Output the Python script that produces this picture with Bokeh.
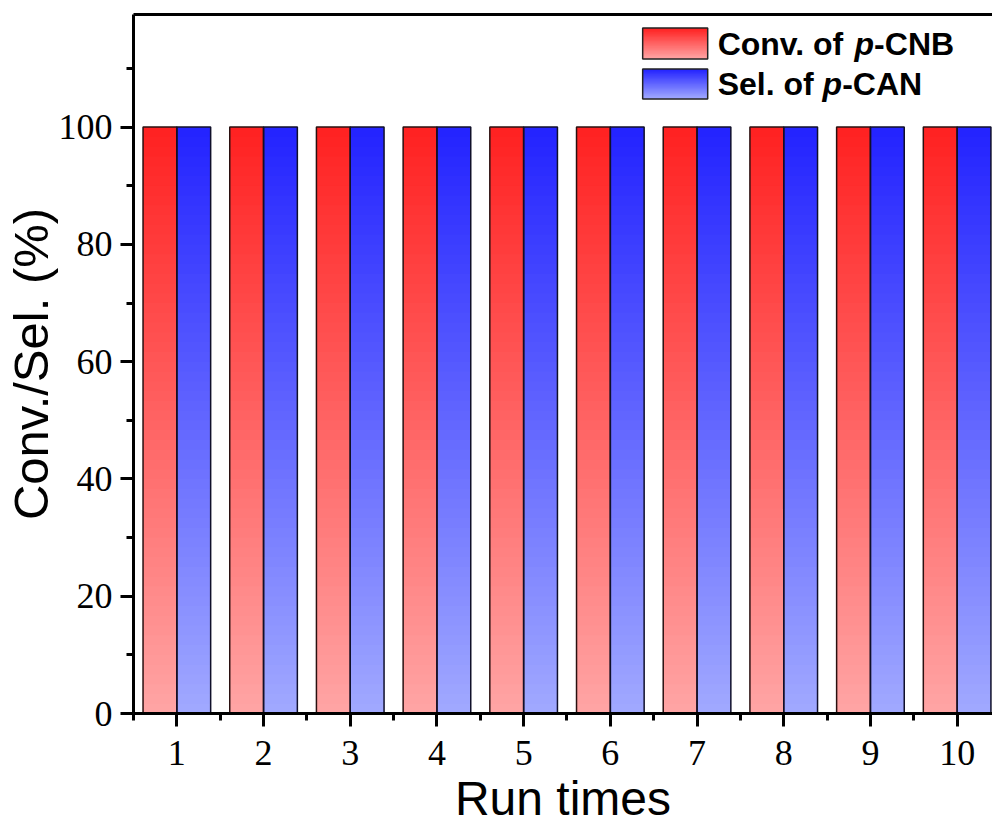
import numpy as np
from bokeh.plotting import figure
from bokeh.models import FixedTicker, Range1d, LinearAxis, ColumnDataSource
from bokeh.core.properties import value
from bokeh.embed import file_html
from bokeh.resources import INLINE

# ---------------- data ----------------
runs = [1, 2, 3, 4, 5, 6, 7, 8, 9, 10]
conv_pCNB = [100, 100, 100, 100, 100, 100, 100, 100, 100, 100]
sel_pCAN = [100, 100, 100, 100, 100, 100, 100, 100, 100, 100]
x_tick_values = [1, 2, 3, 4, 5, 6, 7, 8, 9, 10]
x_minor_values = [0.5, 1.5, 2.5, 3.5, 4.5, 5.5, 6.5, 7.5, 8.5, 9.5, 10.5]
y_tick_values = [0, 20, 40, 60, 80, 100]
y_minor_values = [10, 30, 50, 70, 90, 110]
series_names = ["Conv. of ", "Sel. of "]
series_italic = ["p", "p"]
series_suffix = ["-CNB", "-CAN"]
x_title = "Run times"
y_title = "Conv./Sel. (%)"

# ---------------- style ----------------
RED_TOP, RED_BOTTOM = (255, 34, 34), (255, 164, 164)
BLUE_TOP, BLUE_BOTTOM = (36, 36, 255), (160, 168, 255)
BAR_W = 0.39
OFFSET = BAR_W / 2
N_SLICES = 60
LEG_FONT_PX = 32
# Liberation Sans Bold advance widths (em) used to place the mixed-style legend text
ADV = {"C": .722, "o": .611, "n": .611, "v": .556, ".": .278, " ": .278, "f": .333,
       "S": .667, "e": .556, "l": .278, "p": .611}


def text_w(s):
    return sum(ADV.get(ch, .6) for ch in s) * LEG_FONT_PX


def hexc(c):
    return "#%02x%02x%02x" % tuple(int(round(v)) for v in c)


def mix(c0, c1, f):
    return tuple(a + (b - a) * f for a, b in zip(c0, c1))


def gradient_bars(xs, vals, c_bottom, c_top, n=N_SLICES):
    x, b, t, col = [], [], [], []
    for xi, v in zip(xs, vals):
        for k in range(n):
            f = k / (n - 1)
            x.append(xi)
            b.append(v * k / n)
            t.append(min(v, v * (k + 1) / n + v * 0.006))
            col.append(hexc(mix(c_bottom, c_top, f)))
    return ColumnDataSource(dict(x=x, bottom=b, top=t, color=col))


def gradient_box(left, right, bottom, top, c_bottom, c_top, n=24):
    l, r, b, t, col = [], [], [], [], []
    h = (top - bottom) / n
    for k in range(n):
        f = k / (n - 1)
        l.append(left); r.append(right)
        b.append(bottom + h * k)
        t.append(min(top, bottom + h * (k + 1) + h * 0.6))
        col.append(hexc(mix(c_bottom, c_top, f)))
    return ColumnDataSource(dict(left=l, right=r, bottom=b, top=t, color=col))


p = figure(width=992, height=827, output_backend="svg", toolbar_location=None,
           x_range=Range1d(0.5, 10.408), y_range=Range1d(0, 119.2),
           min_border_left=133, min_border_right=0, min_border_top=14,
           min_border_bottom=114)
p.outline_line_color = None
p.xgrid.visible = False
p.ygrid.visible = False
p.background_fill_color = "white"
p.border_fill_color = "white"

x_red = [r - OFFSET for r in runs]
x_blue = [r + OFFSET for r in runs]

p.vbar(x="x", bottom="bottom", top="top", width=BAR_W, fill_color="color",
       line_color=None, source=gradient_bars(x_red, conv_pCNB, RED_BOTTOM, RED_TOP))
p.vbar(x="x", bottom="bottom", top="top", width=BAR_W, fill_color="color",
       line_color=None, source=gradient_bars(x_blue, sel_pCAN, BLUE_BOTTOM, BLUE_TOP))
p.vbar(x=x_red, top=conv_pCNB, bottom=0, width=BAR_W, fill_color=None,
       line_color="#2a1010", line_width=1.5)
p.vbar(x=x_blue, top=sel_pCAN, bottom=0, width=BAR_W, fill_color=None,
       line_color="#10102a", line_width=1.5)

# ---------------- legend (manual, gradient swatches) ----------------
LEG_L, LEG_R = 6.373, 7.123
leg_rows = [(111.6, 116.9), (104.8, 109.9)]
leg_colors = [(RED_BOTTOM, RED_TOP), (BLUE_BOTTOM, BLUE_TOP)]
TXT_X = 7.238
for (yb, yt), (cb, ct), name, ital, suf in zip(leg_rows, leg_colors, series_names,
                                               series_italic, series_suffix):
    p.quad(left="left", right="right", bottom="bottom", top="top", fill_color="color",
           line_color=None, source=gradient_box(LEG_L, LEG_R, yb, yt, cb, ct))
    p.quad(left=[LEG_L], right=[LEG_R], bottom=[yb], top=[yt], fill_color=None,
           line_color="#222222", line_width=1.5)
    ym = (yb + yt) / 2
    w_name = text_w(name)
    w_ital = text_w(ital)
    common = dict(text_baseline="middle", text_font=value("Liberation Sans"),
                  text_font_size=f"{LEG_FONT_PX}px", text_color="black")
    p.text(x=[TXT_X], y=[ym], text=[name], text_font_style="bold", **common)
    p.text(x=[TXT_X], y=[ym], text=[ital], x_offset=w_name,
           text_font_style="bold italic", **common)
    p.text(x=[TXT_X], y=[ym], text=[suf], x_offset=w_name + w_ital,
           text_font_style="bold", **common)

# ---------------- axes ----------------
for ax, major, minor in ((p.xaxis[0], x_tick_values, x_minor_values),
                         (p.yaxis[0], y_tick_values, y_minor_values)):
    ax.ticker = FixedTicker(ticks=major, minor_ticks=minor)
    ax.axis_line_width = 3
    ax.axis_line_color = "black"
    ax.major_tick_line_width = 3
    ax.minor_tick_line_width = 3
    ax.major_tick_out = 13
    ax.major_tick_in = 0
    ax.minor_tick_out = 7
    ax.minor_tick_in = 0
    ax.major_label_text_font = "Liberation Serif"
    ax.major_label_text_font_size = "36px"
    ax.major_label_text_color = "black"
    ax.axis_label_text_font = "Liberation Sans"
    ax.axis_label_text_font_style = "normal"
    ax.axis_label_text_color = "black"
    ax.axis_label_text_line_height = 0.8

p.xaxis.axis_label = x_title
p.xaxis.axis_label_text_font_size = "48px"
p.xaxis.major_label_standoff = 14
p.xaxis.axis_label_standoff = 4
p.yaxis.axis_label = y_title
p.yaxis.axis_label_text_font_size = "49px"
p.yaxis.major_label_standoff = 8
p.yaxis.axis_label_standoff = -2

top_axis = LinearAxis(ticker=FixedTicker(ticks=[]), major_label_text_font_size="0px",
                      axis_line_width=3, axis_line_color="black",
                      major_tick_line_color=None, minor_tick_line_color=None)
p.add_layout(top_axis, "above")

open("out.html", "w").write(file_html(p, INLINE))
